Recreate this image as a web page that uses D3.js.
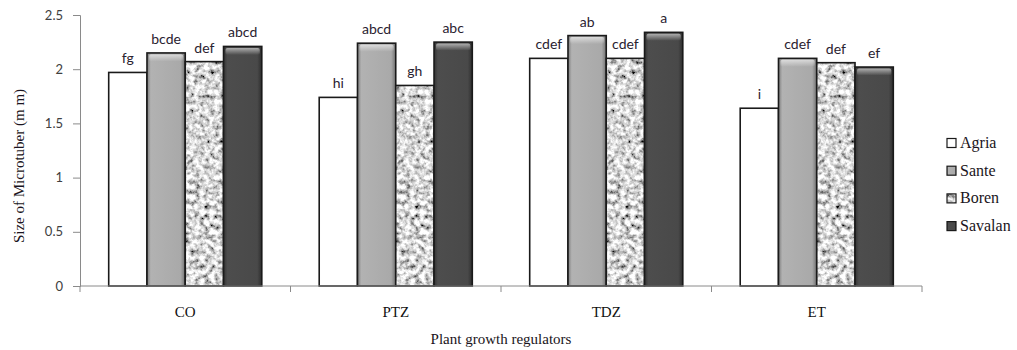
<!DOCTYPE html>
<html>
<head>
<meta charset="utf-8">
<script src="https://cdn.jsdelivr.net/npm/d3@7"></script>
<style>
  body { margin: 0; background: #fff; }
  .tick text { font-family: Lato, "Open Sans", sans-serif; }
</style>
</head>
<body>
<div id="chart"></div>
<script>
// chart values
var categories = ["CO", "PTZ", "TDZ", "ET"];
var seriesNames = ["Agria", "Sante", "Boren", "Savalan"];
var agria = [1.97, 1.74, 2.10, 1.64];
var sante = [2.15, 2.24, 2.31, 2.10];
var boren = [2.07, 1.85, 2.10, 2.06];
var savalan = [2.21, 2.25, 2.34, 2.02];
var agriaLetters = ["fg", "hi", "cdef", "i"];
var santeLetters = ["bcde", "abcd", "ab", "cdef"];
var borenLetters = ["def", "gh", "cdef", "def"];
var savalanLetters = ["abcd", "abc", "a", "ef"];
var yTicks = [0, 0.5, 1, 1.5, 2, 2.5];

var width = 1017, height = 350;
var margin = { top: 15, right: 95, bottom: 64, left: 80 };

var svg = d3.select("#chart").append("svg")
  .attr("width", width)
  .attr("height", height);

var defs = svg.append("defs");

// grey bevel for Sante
var gS = defs.append("linearGradient").attr("id", "santeFill");
gS.append("stop").attr("offset", "0%").attr("stop-color", "#7c7c7c");
gS.append("stop").attr("offset", "10%").attr("stop-color", "#b2b2b2");
gS.append("stop").attr("offset", "88%").attr("stop-color", "#a9a9a9");
gS.append("stop").attr("offset", "100%").attr("stop-color", "#727272");

// dark bevel for Savalan
var gV = defs.append("linearGradient").attr("id", "savalanFill");
gV.append("stop").attr("offset", "0%").attr("stop-color", "#333");
gV.append("stop").attr("offset", "10%").attr("stop-color", "#4d4d4d");
gV.append("stop").attr("offset", "88%").attr("stop-color", "#494949");
gV.append("stop").attr("offset", "100%").attr("stop-color", "#2e2e2e");

var gTop = defs.append("linearGradient").attr("id", "topShine")
  .attr("x1", 0).attr("y1", 0).attr("x2", 0).attr("y2", 1);
gTop.append("stop").attr("offset", "0%").attr("stop-color", "#fff").attr("stop-opacity", 0.55);
gTop.append("stop").attr("offset", "100%").attr("stop-color", "#fff").attr("stop-opacity", 0);

// speckled texture for Boren
var noise = defs.append("filter").attr("id", "speckle")
  .attr("x", 0).attr("y", 0).attr("width", 1).attr("height", 1);
noise.append("feTurbulence")
  .attr("type", "fractalNoise")
  .attr("baseFrequency", 0.2)
  .attr("numOctaves", 3)
  .attr("seed", 7)
  .attr("result", "n");
noise.append("feColorMatrix")
  .attr("in", "n")
  .attr("type", "matrix")
  .attr("values", "2 0 0 0 -0.32  2 0 0 0 -0.32  2 0 0 0 -0.32  0 0 0 0 1")
  .attr("result", "g");
noise.append("feComposite")
  .attr("in", "g").attr("in2", "SourceGraphic").attr("operator", "in");

var fills = {
  Agria: "#fff",
  Sante: "url(#santeFill)",
  Boren: "#aaa",
  Savalan: "url(#savalanFill)"
};

var table = categories.map(function (c, i) {
  return {
    category: c,
    bars: [
      { name: "Agria", value: agria[i], letter: agriaLetters[i] },
      { name: "Sante", value: sante[i], letter: santeLetters[i] },
      { name: "Boren", value: boren[i], letter: borenLetters[i] },
      { name: "Savalan", value: savalan[i], letter: savalanLetters[i] }
    ]
  };
});

var x0 = d3.scaleBand()
  .domain(categories)
  .range([margin.left, width - margin.right]);

var x1 = d3.scaleBand()
  .domain(seriesNames)
  .range([0, x0.bandwidth()])
  .paddingOuter(0.75);

var y = d3.scaleLinear()
  .domain([0, 2.5])
  .range([height - margin.bottom, margin.top]);

// y axis
var yAxis = svg.append("g")
  .attr("transform", "translate(" + margin.left + ",0)")
  .call(d3.axisLeft(y).tickValues(yTicks).tickSize(7).tickPadding(10)
    .tickFormat(function (d) { return d; }));
yAxis.selectAll("path, line").attr("stroke", "#8a8a8a");
yAxis.selectAll("text").attr("fill", "#404040").style("font-size", "13px");

// bars
var groups = svg.selectAll(".grp")
  .data(table)
  .enter().append("g")
  .attr("class", "grp")
  .attr("transform", function (d) { return "translate(" + x0(d.category) + ",0)"; });

var bar = groups.selectAll(".bar")
  .data(function (d) { return d.bars; })
  .enter().append("g")
  .attr("class", "bar");

bar.filter(function (d) { return d.name === "Boren"; })
  .append("rect")
  .attr("x", function (d) { return x1(d.name); })
  .attr("y", function (d) { return y(d.value); })
  .attr("width", x1.bandwidth())
  .attr("height", function (d) { return y(0) - y(d.value); })
  .attr("fill", "#aaa")
  .attr("filter", "url(#speckle)");

bar.append("rect")
  .attr("x", function (d) { return x1(d.name); })
  .attr("y", function (d) { return y(d.value); })
  .attr("width", x1.bandwidth())
  .attr("height", function (d) { return y(0) - y(d.value); })
  .attr("fill", function (d) { return d.name === "Boren" ? "none" : fills[d.name]; })
  .attr("stroke", "#1a1a1a")
  .attr("stroke-width", 1.6);

// top shine on the bevelled bars
bar.filter(function (d) { return d.name === "Sante" || d.name === "Savalan"; })
  .append("rect")
  .attr("x", function (d) { return x1(d.name) + 2; })
  .attr("y", function (d) { return y(d.value) + 1.5; })
  .attr("width", x1.bandwidth() - 4)
  .attr("height", 7)
  .attr("rx", 2)
  .attr("fill", "url(#topShine)");

bar.append("text")
  .attr("x", function (d) { return x1(d.name) + x1.bandwidth() / 2; })
  .attr("y", function (d) { return y(d.value) - 9; })
  .attr("text-anchor", "middle")
  .style("font-family", "Lato, 'Open Sans', sans-serif")
  .style("font-size", "14px")
  .attr("fill", "#2a2230")
  .text(function (d) { return d.letter; });

// x axis
var xAxis = svg.append("g");
xAxis.append("line")
  .attr("x1", margin.left).attr("x2", width - margin.right)
  .attr("y1", y(0)).attr("y2", y(0))
  .attr("stroke", "#8a8a8a");
var bounds = categories.map(function (c) { return x0(c); }).concat([width - margin.right]);
xAxis.selectAll(".xt")
  .data(bounds)
  .enter().append("line")
  .attr("x1", function (d) { return d; }).attr("x2", function (d) { return d; })
  .attr("y1", y(0)).attr("y2", y(0) + 6)
  .attr("stroke", "#8a8a8a");
xAxis.selectAll(".xl")
  .data(categories)
  .enter().append("text")
  .attr("x", function (d) { return x0(d) + x0.bandwidth() / 2; })
  .attr("y", 317)
  .attr("text-anchor", "middle")
  .style("font-family", "'Liberation Serif', serif")
  .style("font-size", "15px")
  .attr("fill", "#111")
  .text(function (d) { return d; });

// axis titles
svg.append("text")
  .attr("x", (margin.left + width - margin.right) / 2)
  .attr("y", 344)
  .attr("text-anchor", "middle")
  .style("font-family", "'Liberation Serif', serif")
  .style("font-size", "15px")
  .attr("fill", "#1a1420")
  .text("Plant growth regulators");

svg.append("text")
  .attr("transform", "translate(24,166) rotate(-90)")
  .attr("text-anchor", "middle")
  .style("font-family", "'Liberation Serif', serif")
  .style("font-size", "15px")
  .attr("fill", "#1a1420")
  .text("Size of Microtuber (m m)");

// legend
var legend = svg.append("g").attr("transform", "translate(947,143)");
var item = legend.selectAll(".leg")
  .data(seriesNames)
  .enter().append("g")
  .attr("transform", function (d, i) { return "translate(0," + (i * 27.7) + ")"; });

item.filter(function (d) { return d === "Boren"; })
  .append("rect")
  .attr("x", 0).attr("y", -4.5).attr("width", 9).attr("height", 9)
  .attr("fill", "#aaa")
  .attr("filter", "url(#speckle)");
item.append("rect")
  .attr("x", 0).attr("y", -4.5).attr("width", 9).attr("height", 9)
  .attr("fill", function (d) { return d === "Boren" ? "none" : fills[d]; })
  .attr("stroke", "#1a1a1a")
  .attr("stroke-width", 1.2);
item.append("text")
  .attr("x", 13).attr("y", 5)
  .style("font-family", "'Liberation Serif', serif")
  .style("font-size", "16px")
  .attr("fill", "#1a1420")
  .text(function (d) { return d; });
</script>
</body>
</html>
